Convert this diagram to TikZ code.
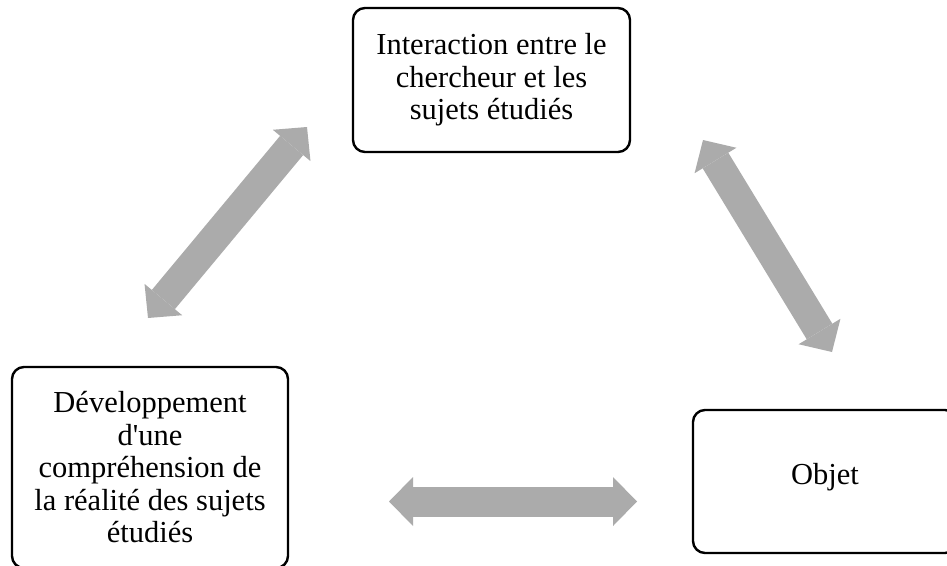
\documentclass[tikz,border=0pt]{standalone}
\usepackage{fontspec}
\setmainfont{Liberation Serif}
\usetikzlibrary{arrows.meta}
\definecolor{arrowgray}{HTML}{ABABAB}
\begin{document}
\begin{tikzpicture}[x=1pt,y=-1pt,
  box/.style={draw=black, line width=2.4pt, rounded corners=12pt, align=center,
    inner sep=0pt, font=\fontsize{30.5}{32.5}\selectfont},
  bigarrow/.style={draw=arrowgray, line width=30pt,
    >={Triangle[length=24pt,width=49pt,line width=0pt]}, <->}]
\clip (0,0) rectangle (947,565);
\node[box, minimum width=277pt, minimum height=144pt] (topbox) at (491.5,80)
  {Interaction entre le\\chercheur et les\\sujets étudiés};
\node[box, minimum width=276pt, minimum height=201pt] (leftbox) at (150,467.5)
  {Développement\\d\textquotesingle une\\compréhension de\\la réalité des sujets\\étudiés};
\node[box, minimum width=264pt, minimum height=143pt, text height=21pt, text depth=15pt] (rightbox) at (825,481.5)
  {Objet};
\coordinate (la) at (148,318);
\coordinate (lb) at (307,127);
\coordinate (ra) at (703,140);
\coordinate (rb) at (832,352);
\coordinate (ba) at (389,501.5);
\coordinate (bb) at (637,501.5);
\draw[bigarrow] (la) -- (lb);
\draw[bigarrow] (ra) -- (rb);
\draw[bigarrow] (ba) -- (bb);
\end{tikzpicture}
\end{document}
